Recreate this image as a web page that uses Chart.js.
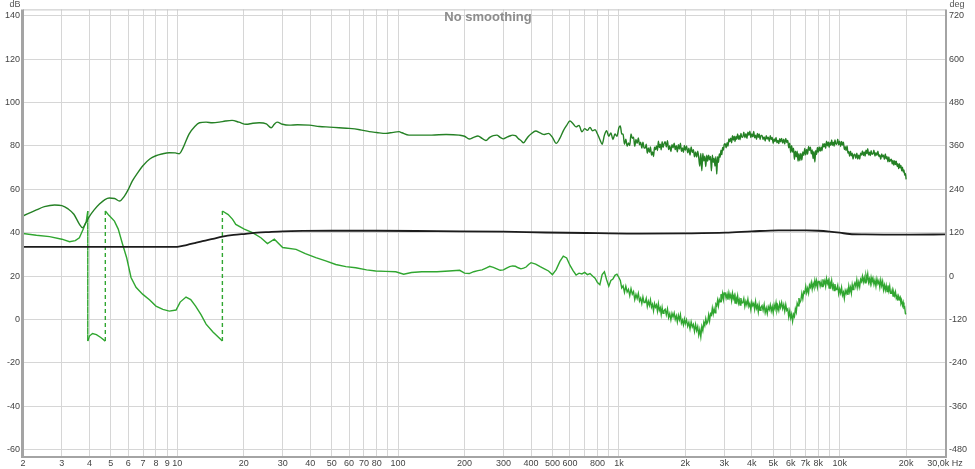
<!DOCTYPE html>
<html>
<head>
<meta charset="utf-8">
<title>No smoothing</title>
<script src="https://cdn.jsdelivr.net/npm/chart.js@4.4.0/dist/chart.umd.min.js"></script>
<style>
  html, body { margin:0; padding:0; background:#fff; }
  #wrap { width:975px; height:469px; }
</style>
</head>
<body>
<div id="wrap"><canvas id="chart" width="975" height="469"></canvas></div>
<script>
/* ---- axis ticks ---- */
const xTicks  = [2,3,4,5,6,7,8,9,10,20,30,40,50,60,70,80,90,100,200,300,400,500,600,700,800,900,
                 1000,2000,3000,4000,5000,6000,7000,8000,9000,10000,20000,30000];
const xLabels = ['2','3','4','5','6','7','8','9','10','20','30','40','50','60','70','80','','100','200','300','400','500','600','','800','',
                 '1k','2k','3k','4k','5k','6k','7k','8k','','10k','20k','30,0k Hz'];
const dbTicks  = [-60,-40,-20,0,20,40,60,80,100,120,140];
const degTicks = [-480,-360,-240,-120,0,120,240,360,480,600,720];

/* ---- SPL (dB), low part ---- */
const splFreqLow = [2,2.3,2.5,2.78,3.0,3.2,3.4,3.6,3.72,3.85,4.0,4.2,4.44,4.7,4.92,5.2,5.47,5.76,6.0,6.25,
  6.6,7.0,7.5,8.0,8.5,9.2,9.8,10.2,10.6,11.3,12.0,12.6,13.5,14.4,15.5,16.5,17.7,19,20.5,22,
  23.5,25.3,26.6,27.5,28.3,30,32.1,35,39.6,44,48.8,54,60,67,74,80,88,95,101,104,
  112,125,142,165,189,200];
const splDbLow = [47.7,50.5,52,52.8,52.5,51,48.5,44,42.3,44.5,47.5,50.5,53.2,55.3,56,55.8,54.6,56.9,60,63.8,
  67.5,71,74,75.5,76.3,76.9,76.8,76.4,79,85.5,89,90.7,91,90.7,91,91.5,91.8,91,90,90.5,
  90.7,90.2,88.4,90,91,90,89.6,89.8,89.6,89,88.7,88.4,88.1,87.5,86.6,86.2,85.8,86.3,86.6,86.1,
  85,85,85,85.3,85,84.5];

/* ---- mid grid 210 Hz - 1 kHz ---- */
const midFreq = [
  210,220,230,240,250,260,270,280,290,300,
  310,320,330,340,350,360,370,380,390,400,
  420,440,460,480,500,520,540,560,580,600,
  620,640,660,680,700,720,740,760,780,800,
  820,840,860,880,900,920,940,960,980,1000];
const splDbMid = [
  83.2,84,84.6,83.5,82.5,84,84.8,85,84,83.3,
  84,84.6,85,84.8,83.5,82.5,81.5,83,84.5,85.5,
  86.9,86,85.3,85.8,84,81.2,83.5,87,89.5,91.5,
  90.3,88.8,89.5,86.5,88,87.2,88.6,87,87.5,85.5,
  83,80.8,85,87,84.5,86,83,85.5,84.5,88.4];
const phaseDegMid = [
  7,12,15,17,22,27,24,20,16,17,
  22,26,28,27,23,20,22,25,32,37,
  33,26,20,14,4,18,40,55,50,30,
  15,3,8,6,10,4,7,0,-6,-18,
  -24,4,12,-10,-28,-12,-8,2,5,-4];

/* ---- high grid 1 kHz - 20 kHz (noisy part) ---- */
const hiFreq = [
  1015,1030,1045,1060,1075,1090,1105,1120,1135,1150,1165,1180,1195,1210,1225,1240,1255,1270,1285,1300,
  1315,1330,1345,1360,1375,1390,1405,1420,1435,1450,1465,1480,1495,1510,1525,1540,1555,1570,1585,1600,
  1620,1640,1660,1680,1700,1720,1740,1760,1780,1800,1820,1840,1860,1880,1900,1920,1940,1960,1980,2000,
  2025,2050,2075,2100,2125,2150,2175,2200,2225,2250,2275,2300,2325,2350,2375,2400,2425,2450,2475,2500,
  2525,2550,2575,2600,2625,2650,2675,2700,2725,2750,2775,2800,2825,2850,2875,2900,2925,2950,2975,3000,
  3030,3060,3090,3120,3150,3180,3210,3240,3270,3300,3330,3360,3390,3420,3450,3480,3510,3540,3570,3600,
  3640,3680,3720,3760,3800,3840,3880,3920,3960,4000,4040,4080,4120,4160,4200,4240,4280,4320,4360,4400,
  4450,4500,4550,4600,4650,4700,4750,4800,4850,4900,4950,5000,5050,5100,5150,5200,5250,5300,5350,5400,
  5460,5520,5580,5640,5700,5760,5820,5880,5940,6000,6060,6120,6180,6240,6300,6360,6420,6480,6540,6600,
  6670,6740,6810,6880,6950,7020,7090,7160,7230,7300,7370,7440,7510,7580,7650,7720,7790,7860,7930,8000,
  8080,8160,8240,8320,8400,8480,8560,8640,8720,8800,8880,8960,9040,9120,9200,9280,9360,9440,9520,9600,
  9700,9800,9900,10000,10100,10200,10300,10400,10500,10600,10700,10800,10900,11000,11100,11200,11300,11400,11500,11600,
  11720,11840,11960,12080,12200,12320,12440,12560,12680,12800,12920,13040,13160,13280,13400,13520,13640,13760,13880,14000,
  14150,14300,14450,14600,14750,14900,15050,15200,15350,15500,15650,15800,15950,16100,16250,16400,16550,16700,16850,17000,
  17150,17300,17450,17600,17750,17900,18050,18200,18350,18500,18650,18800,18950,19100,19250,19400,19550,19700,19850,20000];
const splDbHi = [
  89.2,85.6,85.4,80.8,83.1,79.9,81.4,80.2,85.5,83.5,84.1,79.9,83,81.2,83.7,80.5,81.7,79,81.8,79.2,
  79,80.8,76.6,79.1,77.1,79.6,75.8,77.3,75.1,79.4,78.3,80,77.9,82.2,79.3,80.8,78.2,82,79.4,80.9,
  82,79.6,82.4,78.3,80.1,77.4,80.6,79.2,81.3,78.3,80.1,77.3,80.6,78.6,81.3,77.5,79.1,77.1,80.2,78,
  80,76.8,79,75.8,79.5,77,78.3,75,77.2,74.9,77.6,74.6,70.7,76.5,68.6,76.5,73.1,75.3,70.5,75.8,
  73,75.7,73.6,75.2,68.5,75.8,72.5,74.4,70.7,75,67,75,72.4,76.3,74.8,78,76,79.3,78.1,80.7,
  81.1,79.2,81.5,79.9,83.3,82,83.6,81.5,84.8,82.7,84.5,82,84.4,83.1,85.6,83.1,84.7,82.9,85.8,84.2,
  84,86.3,83.8,85.7,83.5,86.3,85,86.8,83.9,85.6,84.2,86.7,83.8,85,83.1,85.8,84,85.5,83,84.9,
  84.9,83,84.2,82.3,84.8,83.2,84.1,82.1,84.7,83,83.9,81.2,83.3,82.1,83.9,81.5,82.6,81.1,83.4,81.9,
  83.5,81.3,83.1,80.9,83.5,81.6,82.5,79.2,81.3,77,80.1,77.2,79,73.8,77.6,75,77.6,73,76.4,73.2,
  76.6,73.5,77.2,75.7,78.9,75.9,78.4,76.2,79.8,78,79.4,76.4,78.2,74.2,77.5,72.6,77.9,76.1,79.3,77.1,
  79.6,77.5,79.6,77.8,81,79.6,81,78.9,82.2,80.1,81.9,79.3,81.6,80.3,82.8,80.3,81.8,79.9,82.8,81.1,
  80.8,83.1,80.5,82.2,79.7,82.1,80.4,81.8,78.4,79.7,77.9,80,76.7,77.5,75.2,77.6,75.5,76.7,74,75.8,
  76.2,74.3,76.7,74,75.7,74,76.7,75.8,77.7,75.6,77.2,75.3,78,76.5,78.7,75.9,77.1,75.6,77.8,76.2,
  76.4,78,75.3,76.9,75.7,77.6,75.1,75.9,73.8,76.3,75,75.7,73.8,76.3,74.1,75,72.7,74.9,72.8,73.6,
  73.9,71.7,73.3,71.1,73.2,71.4,73,70.6,71.8,69.6,71.8,69.9,71,68.6,70.2,68,69,66.5,67.3,64.6];
const phaseDegHi = [
  -12,-33,-27,-45,-28,-44,-37,-54,-35,-50,-43,-65,-51,-62,-48,-69,-61,-76,-58,-73,
  -73,-62,-84,-70,-81,-66,-86,-78,-96,-76,-86,-80,-97,-77,-95,-88,-106,-87,-103,-96,
  -92,-107,-91,-115,-104,-121,-103,-113,-102,-120,-110,-127,-109,-121,-107,-130,-122,-135,-119,-132,
  -121,-139,-128,-146,-127,-141,-134,-153,-134,-151,-140,-163,-148,-168,-140,-151,-128,-137,-118,-132,
  -127,-108,-124,-104,-108,-89,-105,-91,-102,-78,-82,-67,-82,-65,-71,-50,-62,-48,-64,-47,
  -47,-61,-50,-65,-46,-60,-52,-68,-48,-62,-54,-75,-60,-70,-55,-75,-66,-80,-61,-75,
  -74,-62,-84,-70,-80,-64,-84,-76,-93,-72,-82,-76,-92,-71,-89,-81,-99,-79,-95,-87,
  -82,-95,-79,-101,-89,-104,-85,-93,-80,-97,-85,-101,-80,-91,-74,-95,-84,-95,-76,-87,
  -73,-90,-79,-97,-79,-95,-91,-113,-97,-116,-105,-125,-106,-112,-91,-100,-75,-82,-61,-74,
  -68,-48,-63,-43,-47,-29,-46,-34,-47,-25,-31,-18,-36,-21,-30,-12,-26,-13,-31,-15,
  -15,-28,-16,-29,-9,-22,-13,-28,-7,-20,-12,-33,-18,-28,-13,-33,-25,-40,-22,-37,
  -37,-26,-49,-36,-47,-32,-53,-45,-62,-40,-48,-39,-52,-28,-43,-32,-47,-24,-37,-26,
  -19,-30,-11,-31,-17,-30,-9,-15,-1,-16,-4,-19,2,-9,6,-17,-8,-21,-4,-17,
  -6,-23,-11,-28,-8,-21,-13,-31,-11,-27,-15,-38,-25,-39,-26,-43,-26,-41,-28,-48,
  -48,-38,-55,-45,-54,-44,-61,-55,-68,-56,-64,-59,-75,-69,-81,-73,-88,-86,-104,-106];

/* ---- phase (deg, wrapped at +-180), low part ---- */
const phaseFreqLow = [2,2.3,2.64,3.0,3.25,3.45,3.6,3.75,3.87,3.93,
  3.93,4.0,4.13,4.3,4.5,4.72,4.72,4.9,5.19,5.4,
  5.65,5.9,6.17,6.5,6.96,7.5,8.0,8.6,9.2,9.87,
  10.3,10.95,11.5,12.1,12.8,13.5,14.5,16,16,17,
  17.8,18.4,20.1,21.9,23.9,25.6,27.5,30,34.5,38,
  42.4,47,52.2,58,64.3,72,79.2,88,97.6,106,
  115,128,150,170,190,200];
const phaseDegLow = [118,113,109,102,95,98,106,130,152,180,
  -180,-166,-159,-162,-170,-180,180,168,152,130,
  88,50,-4,-31,-50,-66,-83,-92,-97,-94,
  -72,-58,-65,-83,-107,-133,-155,-180,180,170,
  157,143,130,120,106,90,102,79,74,62,
  51,42,32,26,23,17,14,13,12,5,
  10,12,12,14,16,8];

/* ---- black reference trace (dB) ---- */
const refFreq = [2,10,11,12,13,14.5,16,18,20.4,23,26,30,37,50,80,150,300,465,800,1234,
  2000,3040,4000,5270,7050,8000,9000,10000,11100,13000,20600,30000];
const refDb = [33.5,33.5,34.3,35.2,36.1,37.2,38.2,39,39.5,40,40.3,40.6,40.8,40.9,40.9,40.7,40.5,40.1,39.8,39.6,
  39.7,40,40.6,41.1,41.1,40.9,40.5,40,39.4,39.2,39.1,39.2];

const pts = (fs, vs) => fs.map((f, i) => ({ x: f, y: vs[i] }));

const FONT = 'Arial, "Liberation Sans", sans-serif';
const GRID = '#d6d6d6';

// frame + corner texts + title inside the plot
const framePlugin = {
  id: 'frame',
  afterDraw(chart){
    const { ctx, chartArea: a } = chart;
    ctx.save();
    ctx.strokeStyle = '#c4c4c4'; ctx.lineWidth = 1;
    ctx.beginPath(); ctx.moveTo(a.left, a.top + 0.5); ctx.lineTo(a.right, a.top + 0.5); ctx.stroke();
    ctx.strokeStyle = '#a4a4a4'; ctx.lineWidth = 3;
    ctx.beginPath(); ctx.moveTo(a.left - 0.5, a.top); ctx.lineTo(a.left - 0.5, a.bottom + 2); ctx.stroke();
    ctx.lineWidth = 2;
    ctx.beginPath(); ctx.moveTo(a.left, a.bottom + 1); ctx.lineTo(a.right + 1, a.bottom + 1); ctx.lineTo(a.right + 1, a.top); ctx.stroke();

    ctx.fillStyle = '#555'; ctx.font = '9px ' + FONT; ctx.textBaseline = 'top';
    ctx.textAlign = 'center';
    ctx.fillText('dB', a.left - 8, 0);
    ctx.fillText('deg', a.right + 12, 0);
    ctx.fillStyle = '#8c8c8c'; ctx.font = 'bold 13px ' + FONT;
    ctx.fillText('No smoothing', (a.left + a.right) / 2 + 4, a.top + 2);
    ctx.restore();
  }
};

const tickFont = { size: 9, family: FONT };

new Chart(document.getElementById('chart'), {
  type: 'line',
  data: {
    datasets: [
      { label:'ref', data: pts(refFreq, refDb), yAxisID:'y',
        borderColor:'#1c1c1c', borderWidth:1.8, pointRadius:0, cubicInterpolationMode:'monotone' },
      { label:'SPL', data: pts(splFreqLow.concat(midFreq, hiFreq), splDbLow.concat(splDbMid, splDbHi)), yAxisID:'y',
        borderColor:'#258125', borderWidth:1.4, pointRadius:0, cubicInterpolationMode:'monotone' },
      { label:'Phase', data: pts(phaseFreqLow.concat(midFreq, hiFreq), phaseDegLow.concat(phaseDegMid, phaseDegHi)), yAxisID:'y1',
        borderColor:'#30a630', borderWidth:1.4, pointRadius:0, tension:0,
        segment: { borderDash: c => Math.abs(c.p1.parsed.y - c.p0.parsed.y) > 300 ? [4,3] : undefined } }
    ]
  },
  options: {
    responsive:false, animation:false,
    layout: { padding: { top:8, left:0, right:0, bottom:0 } },
    plugins: { legend:{ display:false }, tooltip:{ enabled:false } },
    scales: {
      x: {
        type:'logarithmic', min:2, max:30000,
        afterBuildTicks: s => { s.ticks = xTicks.map(v => ({ value:v })); },
        afterFit: s => { s.height = 13; },
        grid:{ color:GRID, drawTicks:false },
        border:{ display:false },
        ticks:{ autoSkip:false, maxRotation:0, padding:2, color:'#444', font:tickFont,
                callback:(v, i) => xLabels[i] }
      },
      y: {
        position:'left', min:-63, max:143,
        afterBuildTicks: s => { s.ticks = dbTicks.map(v => ({ value:v })); },
        afterFit: s => { s.width = 23; },
        grid:{ color:GRID, drawTicks:false },
        border:{ display:false },
        ticks:{ padding:3, color:'#444', font:tickFont }
      },
      y1: {
        position:'right', min:-498, max:738,
        afterBuildTicks: s => { s.ticks = degTicks.map(v => ({ value:v })); },
        afterFit: s => { s.width = 30; },
        grid:{ display:false, drawTicks:false },
        border:{ display:false },
        ticks:{ padding:4, color:'#444', font:tickFont }
      }
    }
  },
  plugins: [framePlugin]
});
</script>
</body>
</html>
